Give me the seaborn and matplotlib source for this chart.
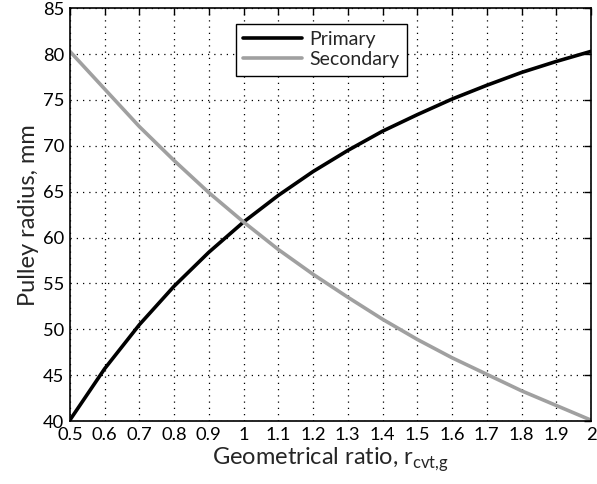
import numpy as np
import pandas as pd
import matplotlib
matplotlib.use("Agg")
import matplotlib.pyplot as plt
from matplotlib.ticker import FuncFormatter
import seaborn as sns

# Geometrical ratio of the CVT and the corresponding pulley radii (mm)
ratio = [0.5, 0.6, 0.7, 0.8, 0.9, 1.0, 1.1, 1.2, 1.3, 1.4, 1.5, 1.6, 1.7, 1.8, 1.9, 2.0]
primary = [40.1, 45.7, 50.5, 54.7, 58.4, 61.7, 64.6, 67.2, 69.5, 71.6, 73.4, 75.1, 76.6, 78.0, 79.2, 80.3]
secondary = [80.3, 76.2, 72.1, 68.4, 64.9, 61.7, 58.7, 56.0, 53.5, 51.1, 48.9, 46.9, 45.1, 43.3, 41.7, 40.1]

x_ticks = [0.5, 0.6, 0.7, 0.8, 0.9, 1.0, 1.1, 1.2, 1.3, 1.4, 1.5, 1.6, 1.7, 1.8, 1.9, 2.0]
y_ticks = [40, 45, 50, 55, 60, 65, 70, 75, 80, 85]

df = pd.DataFrame({
    "ratio": ratio * 2,
    "radius": primary + secondary,
    "pulley": ["Primary"] * len(ratio) + ["Secondary"] * len(ratio),
})

sns.set_style("white")
plt.rcParams["font.family"] = ["Lato", "DejaVu Sans"]
plt.rcParams["mathtext.fontset"] = "custom"
plt.rcParams["mathtext.rm"] = "Lato"

fig = plt.figure(figsize=(5.97, 4.84), dpi=100)
ax = fig.add_axes([0.117, 0.130, 0.873, 0.853])

sns.lineplot(data=df, x="ratio", y="radius", hue="pulley",
             palette={"Primary": "black", "Secondary": "#a0a0a0"},
             linewidth=2.6, ax=ax, legend=True)

ax.set_xlim(0.5, 2.0)
ax.set_ylim(40, 85)
ax.set_xticks(x_ticks)
ax.set_yticks(y_ticks)
ax.xaxis.set_major_formatter(FuncFormatter(lambda v, p: f"{v:g}"))
ax.grid(True, color="black", linestyle=(0, (1, 4)), linewidth=0.9)

for s in ax.spines.values():
    s.set_color("black")
    s.set_linewidth(1.2)
ax.tick_params(direction="in", length=5, width=1.0, top=True, right=True,
               labelsize=13.2, colors="black")
ax.tick_params(axis="x", pad=4)
ax.tick_params(axis="y", pad=4)

ax.set_xlabel(r"Geometrical ratio, r$_{\mathregular{cvt{,}g}}$", fontsize=17, labelpad=2)
ax.set_ylabel("Pulley radius, mm", fontsize=17, labelpad=3)

leg = ax.legend(loc="upper left", bbox_to_anchor=(0.318, 0.963), fontsize=14,
                frameon=True, fancybox=False, framealpha=1, edgecolor="black",
                borderpad=0.4, handlelength=3.0, handletextpad=0.4, labelspacing=0.15,
                borderaxespad=0)
leg.get_frame().set_linewidth(1.0)

fig.savefig("out.png", dpi=100)
